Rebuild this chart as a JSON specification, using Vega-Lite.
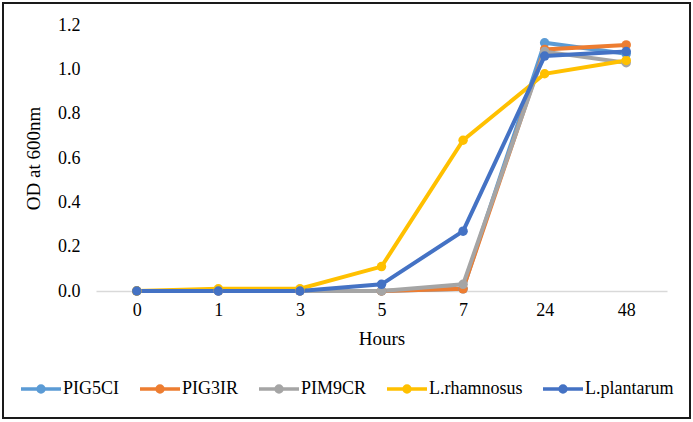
{
  "$schema": "https://vega.github.io/schema/vega-lite/v6.json",
  "width": 687,
  "height": 415,
  "autosize": "none",
  "padding": {"left": 3, "top": 3, "right": 3, "bottom": 4},
  "background": "white",
  "config": {
    "font": "Liberation Serif",
    "axis": {"labelFont": "Liberation Serif", "titleFont": "Liberation Serif"},
    "legend": {"labelFont": "Liberation Serif", "titleFont": "Liberation Serif"},
    "view": {"stroke": "#1a1a1a", "strokeWidth": 2}
  },
  "data": {
    "values": [
      {"strain": "PIG5CI", "hours": 0, "od": 0.0},
      {"strain": "PIG5CI", "hours": 1, "od": 0.0},
      {"strain": "PIG5CI", "hours": 3, "od": 0.0},
      {"strain": "PIG5CI", "hours": 5, "od": 0.0},
      {"strain": "PIG5CI", "hours": 7, "od": 0.01},
      {"strain": "PIG5CI", "hours": 24, "od": 1.12},
      {"strain": "PIG5CI", "hours": 48, "od": 1.07},
      {"strain": "PIG3IR", "hours": 0, "od": 0.0},
      {"strain": "PIG3IR", "hours": 1, "od": 0.0},
      {"strain": "PIG3IR", "hours": 3, "od": 0.0},
      {"strain": "PIG3IR", "hours": 5, "od": 0.0},
      {"strain": "PIG3IR", "hours": 7, "od": 0.01},
      {"strain": "PIG3IR", "hours": 24, "od": 1.09},
      {"strain": "PIG3IR", "hours": 48, "od": 1.11},
      {"strain": "PIM9CR", "hours": 0, "od": 0.0},
      {"strain": "PIM9CR", "hours": 1, "od": 0.0},
      {"strain": "PIM9CR", "hours": 3, "od": 0.0},
      {"strain": "PIM9CR", "hours": 5, "od": 0.0},
      {"strain": "PIM9CR", "hours": 7, "od": 0.03},
      {"strain": "PIM9CR", "hours": 24, "od": 1.08},
      {"strain": "PIM9CR", "hours": 48, "od": 1.03},
      {"strain": "L.rhamnosus", "hours": 0, "od": 0.0},
      {"strain": "L.rhamnosus", "hours": 1, "od": 0.01},
      {"strain": "L.rhamnosus", "hours": 3, "od": 0.01},
      {"strain": "L.rhamnosus", "hours": 5, "od": 0.11},
      {"strain": "L.rhamnosus", "hours": 7, "od": 0.68},
      {"strain": "L.rhamnosus", "hours": 24, "od": 0.98},
      {"strain": "L.rhamnosus", "hours": 48, "od": 1.04},
      {"strain": "L.plantarum", "hours": 0, "od": 0.0},
      {"strain": "L.plantarum", "hours": 1, "od": 0.0},
      {"strain": "L.plantarum", "hours": 3, "od": 0.0},
      {"strain": "L.plantarum", "hours": 5, "od": 0.03},
      {"strain": "L.plantarum", "hours": 7, "od": 0.27},
      {"strain": "L.plantarum", "hours": 24, "od": 1.06},
      {"strain": "L.plantarum", "hours": 48, "od": 1.08}
    ]
  },
  "mark": {
    "type": "line",
    "strokeWidth": 4,
    "point": {"filled": true, "size": 90, "opacity": 1}
  },
  "encoding": {
    "x": {
      "field": "hours",
      "type": "ordinal",
      "title": "Hours",
      "scale": {
        "type": "point",
        "domain": [0, 1, 3, 5, 7, 24, 48],
        "range": [93, 664],
        "padding": 0.5
      },
      "axis": {
        "offset": -127,
        "labelAngle": 0,
        "ticks": false,
        "domainColor": "#d9d9d9",
        "domainWidth": 1.5,
        "labelFont": "Liberation Serif",
        "labelFontSize": 18,
        "labelColor": "#000000",
        "labelPadding": 10,
        "titleFont": "Liberation Serif",
        "titleFontSize": 19,
        "titleFontWeight": "normal",
        "titleColor": "#000000",
        "titlePadding": 10
      }
    },
    "y": {
      "field": "od",
      "type": "quantitative",
      "title": "OD at 600nm",
      "scale": {"domain": [0, 1.2], "range": [288, 22], "nice": false},
      "axis": {
        "offset": -85,
        "values": [0, 0.2, 0.4, 0.6, 0.8, 1.0, 1.2],
        "format": ".1f",
        "grid": false,
        "domain": false,
        "ticks": false,
        "labelFont": "Liberation Serif",
        "labelFontSize": 18,
        "labelColor": "#000000",
        "labelPadding": 8,
        "titleFont": "Liberation Serif",
        "titleFontSize": 19,
        "titleFontWeight": "normal",
        "titleColor": "#000000",
        "titlePadding": 14
      }
    },
    "color": {
      "field": "strain",
      "type": "nominal",
      "scale": {
        "domain": ["PIG5CI", "PIG3IR", "PIM9CR", "L.rhamnosus", "L.plantarum"],
        "range": ["#5b9bd5", "#ed7d31", "#a5a5a5", "#ffc000", "#4472c4"]
      },
      "legend": {
        "orient": "none",
        "legendX": 16,
        "legendY": 364,
        "direction": "horizontal",
        "title": null,
        "symbolType": "M-1,0H1M-0.15,0A0.15,0.15,0,1,1,0.15,0A0.15,0.15,0,1,1,-0.15,0Z",
        "symbolSize": 1600,
        "symbolStrokeWidth": 3.5,
        "labelFont": "Liberation Serif",
        "labelFontSize": 18,
        "labelColor": "#000000",
        "labelOffset": 0,
        "columnPadding": 13,
        "encode": {
          "symbols": {
            "update": {
              "fill": {"scale": "color", "field": "value"},
              "stroke": {"scale": "color", "field": "value"},
              "opacity": {"value": 1}
            }
          }
        }
      }
    }
  }
}
